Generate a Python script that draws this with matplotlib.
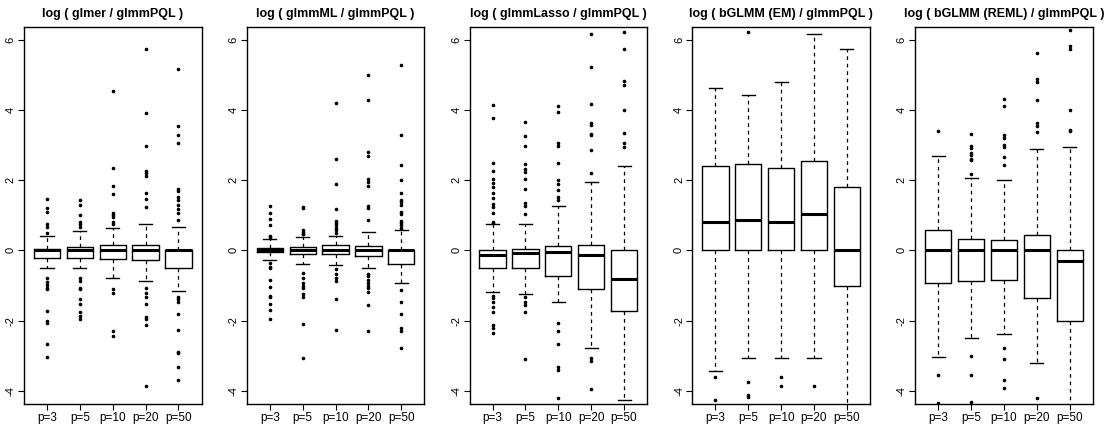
import matplotlib
matplotlib.use("Agg")
import matplotlib.pyplot as plt

plt.rcParams['font.family'] = ['Liberation Sans', 'DejaVu Sans']

# ── Data ─────────────────────────────────────────────────────────────────────
GROUPS = ["p=3", "p=5", "p=10", "p=20", "p=50"]
TITLES = ["log ( glmer / glmmPQL )", "log ( glmmML / glmmPQL )",
          "log ( glmmLasso / glmmPQL )", "log ( bGLMM (EM) / glmmPQL )",
          "log ( bGLMM (REML) / glmmPQL )"]

# glmer
glmer_q1  = [-0.22, -0.22, -0.25, -0.27, -0.51]
glmer_med = [0.02, 0.00, 0.00, 0.00, 0.00]
glmer_q3  = [0.04, 0.10, 0.15, 0.15, 0.02]
glmer_lo  = [-0.51, -0.49, -0.79, -0.87, -1.16]
glmer_hi  = [0.40, 0.54, 0.64, 0.76, 0.68]
glmer_out = [
    [1.46, 1.20, 1.10, 0.75, 0.67, 0.51, -0.80, -0.89, -0.99, -1.08, -1.11,
     -1.73, -2.02, -2.06, -2.67, -3.03],
    [1.45, 1.29, 1.01, 0.82, 0.75, 0.67, -0.80, -0.87, -1.06, -1.11, -1.39,
     -1.53, -1.75, -1.87, -1.97],
    [4.54, 2.36, 1.85, 1.62, 1.07, 1.01, 0.94, 0.82, 0.75, -1.10, -1.21,
     -2.29, -2.44],
    [5.75, 3.91, 2.98, 2.27, 2.21, 2.13, 1.64, 1.48, 1.23, -1.08, -1.21,
     -1.32, -1.53, -1.89, -1.96, -2.13, -3.87],
    [5.16, 3.56, 3.28, 3.05, 1.74, 1.70, 1.51, 1.44, 1.29, 1.18, 1.08, 0.87,
     -1.32, -1.39, -1.48, -1.82, -2.27, -2.89, -2.92, -3.32, -3.70],
]

# glmmML
glmmml_q1  = [-0.05, -0.10, -0.10, -0.15, -0.38]
glmmml_med = [0.01, 0.00, 0.00, 0.00, 0.00]
glmmml_q3  = [0.08, 0.10, 0.15, 0.13, 0.02]
glmmml_lo  = [-0.26, -0.40, -0.43, -0.51, -0.94]
glmmml_hi  = [0.33, 0.39, 0.40, 0.52, 0.58]
glmmml_out = [
    [1.26, 1.07, 0.91, 0.72, 0.42, 0.39, -0.37, -0.47, -0.51, -0.85, -1.04,
     -1.29, -1.34, -1.53, -1.70, -1.97],
    [1.25, 1.20, 0.58, 0.53, 0.48, 0.46, -0.64, -0.78, -0.92, -1.02, -1.08,
     -1.23, -1.32, -2.11, -3.08],
    [4.21, 2.60, 1.90, 1.18, 0.85, 0.79, 0.72, 0.63, 0.58, 0.51, -0.54,
     -0.66, -0.80, -0.86, -1.39, -2.27],
    [5.00, 4.29, 2.81, 2.70, 2.05, 1.96, 1.84, 1.26, 1.20, 0.87, -0.66,
     -0.73, -0.83, -0.92, -1.02, -1.08, -1.18, -1.56, -2.30],
    [5.29, 3.29, 2.43, 2.01, 1.63, 1.44, 1.37, 1.29, 1.10, 1.04, 0.85, 0.79,
     0.72, 0.63, -1.13, -1.47, -1.80, -2.22, -2.30, -2.79],
]

# glmmLasso
lasso_q1  = [-0.49, -0.49, -0.72, -1.10, -1.74]
lasso_med = [-0.14, -0.07, -0.04, -0.13, -0.82]
lasso_q3  = [0.00, 0.05, 0.14, 0.16, 0.00]
lasso_lo  = [-1.20, -1.23, -1.46, -2.77, -4.27]
lasso_hi  = [0.74, 0.76, 1.27, 1.96, 2.41]
lasso_out = [
    [4.16, 3.79, 2.48, 2.26, 2.05, 1.91, 1.82, 1.65, 1.50, 1.32, 1.23, 1.06,
     0.82, 0.79, -1.29, -1.37, -1.48, -1.61, -1.75, -2.13, -2.21, -2.35],
    [3.66, 3.26, 2.98, 2.46, 2.31, 2.24, 2.05, 1.76, 1.34, 1.26, 1.03,
     -1.32, -1.46, -1.56, -1.75, -3.09],
    [4.12, 3.95, 3.05, 2.98, 2.48, 2.01, 1.88, 1.72, 1.53, 1.45, -2.08,
     -2.30, -2.67, -3.32, -3.41, -4.20],
    [6.17, 5.22, 4.17, 3.62, 3.57, 3.32, 3.29, 2.86, 2.21, -3.08, -3.16,
     -3.96],
    [6.24, 5.73, 4.83, 4.71, 4.00, 3.34, 3.05, 2.96],
]

# bGLMM (EM)
em_q1  = [0.00, 0.00, 0.00, 0.00, -1.02]
em_med = [0.82, 0.87, 0.82, 1.05, 0.00]
em_q3  = [2.40, 2.47, 2.36, 2.55, 1.82]
em_lo  = [-3.43, -3.08, -3.08, -3.08, -4.60]
em_hi  = [4.64, 4.44, 4.79, 6.17, 5.73]
em_out = [
    [-3.62, -4.27],
    [6.24, -3.75, -4.13, -4.17],
    [-3.62, -3.86],
    [-3.86],
    [],
]

# bGLMM (REML)
reml_q1  = [-0.94, -0.87, -0.83, -1.37, -2.02]
reml_med = [0.00, 0.00, 0.00, 0.00, -0.31]
reml_q3  = [0.58, 0.32, 0.30, 0.45, 0.00]
reml_lo  = [-3.03, -2.49, -2.39, -3.20, -4.60]
reml_hi  = [2.70, 2.06, 2.00, 2.90, 2.96]
reml_out = [
    [3.40, -3.54, -4.36],
    [3.31, 2.98, 2.93, 2.77, 2.72, 2.62, 2.58, 2.18, -3.01, -3.56, -4.33],
    [4.31, 4.12, 3.29, 3.22, 3.02, 2.96, 2.67, 2.45, -2.78, -3.11, -3.70,
     -3.92],
    [5.62, 4.88, 4.81, 4.29, 3.62, 3.56, 3.38, -4.21],
    [6.30, 5.83, 5.73, 4.00, 3.43, 3.40],
]
# ─────────────────────────────────────────────────────────────────────────────

PANELS = [
    (glmer_q1, glmer_med, glmer_q3, glmer_lo, glmer_hi, glmer_out),
    (glmmml_q1, glmmml_med, glmmml_q3, glmmml_lo, glmmml_hi, glmmml_out),
    (lasso_q1, lasso_med, lasso_q3, lasso_lo, lasso_hi, lasso_out),
    (em_q1, em_med, em_q3, em_lo, em_hi, em_out),
    (reml_q1, reml_med, reml_q3, reml_lo, reml_hi, reml_out),
]


def make_stats(q1, med, q3, lo, hi, out):
    stats = []
    for i, g in enumerate(GROUPS):
        stats.append({'label': g, 'q1': q1[i], 'med': med[i], 'q3': q3[i],
                      'whislo': lo[i], 'whishi': hi[i], 'fliers': out[i]})
    return stats


fig = plt.figure(figsize=(11.14, 4.25), dpi=100)

left0 = 24 / 1114
step = 222.8 / 1114
width = 177.5 / 1114
bottom = 1 - 404 / 425
height = (404 - 26.7) / 425

for k, (title, data) in enumerate(zip(TITLES, PANELS)):
    ax = fig.add_axes([left0 + k * step, bottom, width, height])
    ax.bxp(make_stats(*data), positions=range(1, 6), widths=0.8,
           capwidths=0.4, patch_artist=False,
           boxprops=dict(color='black', linewidth=1.0),
           whiskerprops=dict(color='black', linewidth=0.9, linestyle=(0, (3, 3))),
           capprops=dict(color='black', linewidth=1.0),
           medianprops=dict(color='black', linewidth=2.2, solid_capstyle='butt'),
           flierprops=dict(marker='o', markersize=1.6, markerfacecolor='black',
                           markeredgecolor='black', linestyle='none'))
    ax.set_xlim(0.3, 5.7)
    ax.set_ylim(-4.38, 6.38)
    ax.set_yticks([-4, -2, 0, 2, 4, 6])
    ax.set_yticklabels(['-4', '-2', '0', '2', '4', '6'], rotation=90,
                       va='center', fontsize=8)
    ax.set_xticks(range(1, 6))
    ax.set_xticklabels(GROUPS, fontsize=8.5)
    ax.tick_params(direction='out', length=4, width=0.8, pad=2)
    for s in ax.spines.values():
        s.set_linewidth(1.0)
    ax.set_title(title, fontsize=9, fontweight='bold', pad=7)

fig.savefig("out.png", dpi=100)
